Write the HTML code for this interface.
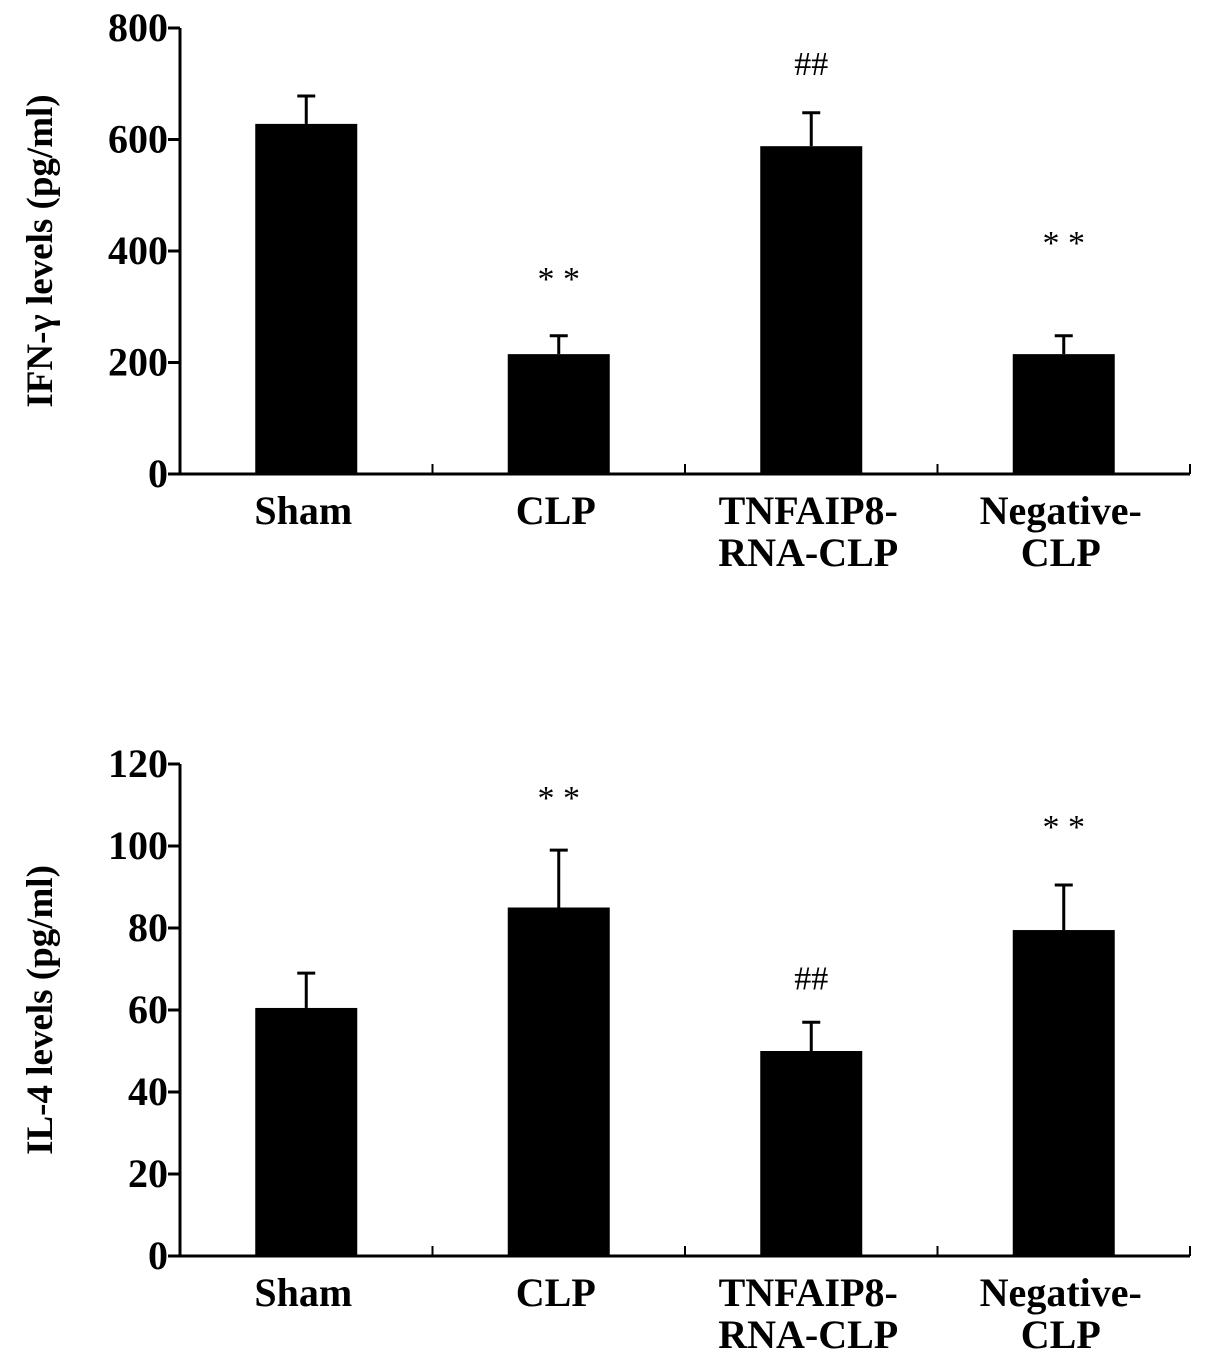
<!DOCTYPE html>
<html><head><meta charset="utf-8"><style>
body{margin:0;background:#fff;}
svg{display:block;font-family:"Liberation Serif",serif;font-weight:bold;}
</style></head><body>
<svg id="chart" width="1205" height="1368"></svg>
<script>
const categories=["Sham","CLP","TNFAIP8-|RNA-CLP","Negative-|CLP"];
const ifnValues=[628,215,588,215];
const ifnErrors=[50,33,60,33];
const ifnMarks=["","* *","##","* *"];
const ifnMarkAt=[0,330,716,395];
const ifnTicks=[0,200,400,600,800];
const il4Values=[60.5,85,50,79.5];
const il4Errors=[8.5,14,7,11];
const il4Marks=["","* *","##","* *"];
const il4MarkAt=[0,109,65,102];
const il4Ticks=[0,20,40,60,80,100,120];
const NS="http://www.w3.org/2000/svg";
const svg=document.getElementById('chart');
function mk(t,a,p){const e=document.createElementNS(NS,t);for(const k in a)e.setAttribute(k,a[k]);(p||svg).appendChild(e);return e;}
function draw(o){
  const g=mk('g',{});
  
  
  const x0=180,x1=1190,yS=v=>o.y0-(v/o.max)*(o.y0-o.yTop);
  const bw=(x1-x0)/categories.length;
  const ax=mk('line',{x1:x0,y1:o.yTop,x2:x0,y2:o.y0,stroke:'#000','stroke-width':3},g);
  
  const xx=mk('line',{x1:x0,y1:o.y0,x2:x1,y2:o.y0,stroke:'#000','stroke-width':3},g);
  
  o.ticks.forEach(t=>{const y=yS(t);
    mk('line',{x1:x0-12,y1:y,x2:x0,y2:y,stroke:'#000','stroke-width':3},g);
    const tx=mk('text',{x:x0-12,y:y+13,'text-anchor':'end','font-size':40},g);tx.textContent=t;
    });
  for(let i=1;i<=categories.length;i++)mk('line',{x1:x0+i*bw,y1:o.y0,x2:x0+i*bw,y2:o.y0-10,stroke:'#000','stroke-width':2},g);
  categories.forEach((c,i)=>{
    const cx=x0+bw*(i+0.5),v=o.vals[i],e=o.errs[i];
    const top=yS(v),et=yS(v+e);
    mk('line',{x1:cx,y1:et,x2:cx,y2:top,stroke:'#000','stroke-width':3},g);
    mk('line',{x1:cx-9,y1:et,x2:cx+9,y2:et,stroke:'#000','stroke-width':3},g);
    const b=mk('rect',{x:cx-51,y:top,width:102,height:o.y0-top,fill:'#000'},g);
    
    if(o.marks[i]){const m=mk('text',{x:cx,y:yS(o.markAt[i]),'text-anchor':'middle','font-size':34,'font-weight':'normal'},g);m.textContent=o.marks[i];
      }
    c.split('|').forEach((l,j)=>{const t=mk('text',{x:cx-3,y:o.y0+50+j*42,'text-anchor':'middle','font-size':40},g);t.textContent=l;
      });
  });
  const yt=mk('text',{transform:`translate(52,${(o.yTop+o.y0)/2}) rotate(-90)`,'text-anchor':'middle','font-size':37},g);
  yt.textContent=o.title;
}
draw({name:'ifn-gamma-chart',vals:ifnValues,errs:ifnErrors,marks:ifnMarks,markAt:ifnMarkAt,ticks:ifnTicks,max:800,y0:474,yTop:28,title:'IFN-γ levels (pg/ml)'});
draw({name:'il4-chart',vals:il4Values,errs:il4Errors,marks:il4Marks,markAt:il4MarkAt,ticks:il4Ticks,max:120,y0:1256,yTop:764,title:'IL-4  levels (pg/ml)'});
</script>
</body></html>
